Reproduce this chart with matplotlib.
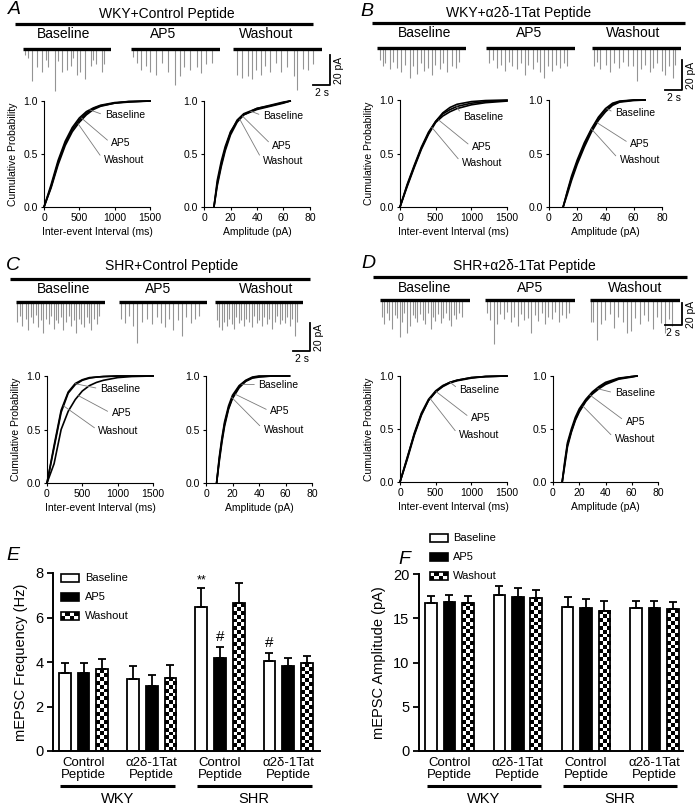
import numpy as np
import matplotlib
matplotlib.use('Agg')
import matplotlib.pyplot as plt
from matplotlib.patches import Rectangle
from matplotlib.transforms import blended_transform_factory

plt.rcParams['font.family'] = ['Liberation Sans', 'DejaVu Sans']

# ---------------- data ----------------
conditions = ['Baseline', 'AP5', 'Washout']
panel_titles = ['WKY+Control Peptide', 'WKY+α2δ-1Tat Peptide',
                'SHR+Control Peptide', 'SHR+α2δ-1Tat Peptide']

# example traces: event times (s) and amplitudes (pA)
A_base_t = [0.2, 0.6, 1.1, 1.7, 2.3, 2.7, 3.0, 3.8, 4.2, 4.6, 5.3, 5.7, 6.0, 6.4, 6.8, 7.4, 8.1, 8.4, 8.7, 9.4, 9.7]
A_base_a = [4, 6, 21, 12, 15, 7, 12, 28, 8, 15, 14, 11, 6, 17, 15, 20, 11, 7, 10, 15, 10]
A_ap5_t = [0.26, 0.7, 1.2, 1.8, 2.3, 2.9, 3.6, 4.4, 5.2, 5.8, 6.3, 7.0, 7.8, 8.3, 8.8, 9.5]
A_ap5_a = [5, 9, 14, 11, 15, 17, 9, 15, 24, 18, 12, 14, 12, 16, 10, 9]
A_wash_t = [0.5, 1.1, 1.8, 2.3, 2.7, 3.3, 3.8, 4.4, 5.1, 5.7, 6.4, 7.2, 7.6, 8.3, 8.9, 9.4]
A_wash_a = [17, 19, 18, 20, 14, 17, 11, 15, 9, 15, 12, 18, 27, 13, 14, 10]

B_base_t = [0.3, 0.7, 1.0, 1.5, 1.9, 2.4, 2.8, 3.3, 3.9, 4.3, 4.7, 5.2, 5.6, 6.0, 6.5, 6.9, 7.4, 7.8, 8.3, 8.8, 9.3, 9.7]
B_base_a = [8, 12, 10, 14, 9, 13, 16, 11, 20, 12, 17, 10, 15, 13, 18, 11, 14, 10, 16, 12, 13, 9]
B_ap5_t = [0.4, 0.8, 1.3, 1.8, 2.2, 2.7, 3.1, 3.6, 4.1, 4.6, 5.0, 5.5, 6.0, 6.4, 6.9, 7.3, 7.8, 8.3, 8.7, 9.2, 9.6]
B_ap5_a = [10, 8, 13, 11, 15, 9, 12, 14, 10, 18, 11, 14, 9, 16, 20, 12, 15, 11, 13, 10, 12]
B_wash_t = [0.2, 0.6, 1.0, 1.6, 2.1, 2.6, 3.2, 3.7, 4.3, 4.8, 5.3, 5.8, 6.3, 6.8, 7.2, 7.7, 8.2, 8.6, 9.1, 9.5, 9.8]
B_wash_a = [12, 9, 14, 11, 16, 10, 13, 9, 12, 12, 22, 14, 11, 16, 13, 10, 15, 18, 12, 20, 11]

C_base_t = [0.15, 0.5, 0.75, 1.15, 1.4, 1.75, 2.0, 2.35, 2.6, 2.95, 3.2, 3.5, 3.85, 4.1, 4.45, 4.7, 5.0,
            5.35, 5.6, 5.9, 6.25, 6.5, 6.8, 7.1, 7.45, 7.7, 8.0, 8.35, 8.6, 8.9, 9.25, 9.5, 9.85]
C_base_a = [14, 10, 17, 12, 20, 11, 15, 9, 18, 13, 22, 12, 16, 10, 19, 13, 15,
            11, 20, 14, 10, 17, 13, 22, 12, 16, 18, 11, 15, 20, 12, 16, 10]
C_ap5_t = [0.2, 0.7, 1.2, 1.7, 2.2, 2.8, 3.3, 3.9, 4.5, 5.0, 5.5, 6.0, 6.5, 7.0, 7.5, 8.0, 8.6, 9.1, 9.6]
C_ap5_a = [12, 15, 10, 17, 29, 14, 12, 16, 11, 15, 18, 12, 20, 13, 24, 11, 15, 12, 10]
C_wash_t = [0.2, 0.45, 0.8, 1.05, 1.4, 1.65, 2.0, 2.3, 2.55, 2.9, 3.15, 3.5, 3.75, 4.1, 4.4, 4.65, 5.0,
            5.25, 5.6, 5.85, 6.2, 6.45, 6.8, 7.1, 7.35, 7.7, 7.95, 8.3, 8.55, 8.9, 9.15, 9.5, 9.8]
C_wash_a = [13, 18, 20, 14, 17, 12, 16, 19, 11, 15, 13, 17, 12, 14, 18, 10, 15,
            13, 17, 11, 16, 12, 19, 14, 10, 16, 13, 15, 11, 17, 12, 24, 14]

D_base_t = [0.2, 0.45, 0.8, 1.05, 1.4, 1.7, 1.95, 2.3, 2.6, 2.85, 3.2, 3.45, 3.8, 4.1, 4.35, 4.7,
            5.0, 5.3, 5.55, 5.9, 6.2, 6.45, 6.8, 7.1, 7.35, 7.7, 8.0, 8.25, 8.6, 8.9, 9.2, 9.55]
D_base_a = [15, 22, 12, 18, 26, 14, 16, 34, 20, 12, 30, 24, 14, 16, 20, 13,
            18, 22, 12, 26, 15, 19, 13, 21, 16, 12, 18, 24, 14, 17, 12, 15]
D_ap5_t = [0.2, 0.6, 1.0, 1.4, 1.8, 2.2, 2.6, 3.0, 3.4, 3.8, 4.2, 4.6, 5.0,
           5.4, 5.8, 6.2, 6.6, 7.0, 7.4, 7.8, 8.2, 8.6, 9.0, 9.4, 9.8]
D_ap5_a = [12, 18, 40, 22, 13, 17, 11, 20, 15, 24, 13, 18, 16,
           30, 14, 19, 12, 22, 15, 17, 11, 20, 14, 16, 12]
D_wash_t = [0.1, 0.4, 0.8, 1.3, 1.8, 2.3, 2.8, 3.3, 3.8, 4.3, 4.8, 5.3, 5.8, 6.3, 6.8, 7.3, 7.8, 8.3, 8.8, 9.2, 9.6]
D_wash_a = [20, 20, 36, 22, 18, 13, 25, 15, 20, 30, 28, 16, 22, 14, 19, 26, 15, 21, 30, 17, 24]

# cumulative distributions: inter-event interval (ms)
int_ms = [0, 100, 200, 300, 400, 500, 600, 700, 800, 1000, 1200, 1500]
A_int_base = [0, 0.21, 0.44, 0.62, 0.75, 0.84, 0.90, 0.935, 0.96, 0.985, 0.995, 1.0]
A_int_ap5 = [0, 0.19, 0.42, 0.60, 0.73, 0.82, 0.885, 0.93, 0.955, 0.98, 0.995, 1.0]
A_int_wash = [0, 0.18, 0.40, 0.58, 0.71, 0.80, 0.87, 0.92, 0.95, 0.98, 0.99, 1.0]
B_int_base = [0, 0.20, 0.38, 0.55, 0.69, 0.80, 0.87, 0.91, 0.94, 0.97, 0.985, 0.995]
B_int_ap5 = [0, 0.19, 0.37, 0.54, 0.68, 0.79, 0.85, 0.89, 0.92, 0.955, 0.975, 0.99]
B_int_wash = [0, 0.21, 0.39, 0.56, 0.70, 0.80, 0.88, 0.93, 0.96, 0.985, 0.995, 1.0]
C_int_base = [0, 0.35, 0.68, 0.85, 0.93, 0.965, 0.985, 0.99, 0.995, 1.0, 1.0, 1.0]
C_int_ap5 = [0, 0.18, 0.50, 0.67, 0.78, 0.86, 0.91, 0.94, 0.96, 0.985, 0.995, 1.0]
C_int_wash = [0, 0.33, 0.66, 0.84, 0.92, 0.96, 0.98, 0.99, 0.995, 1.0, 1.0, 1.0]
D_int_base = [0, 0.22, 0.46, 0.65, 0.78, 0.86, 0.91, 0.94, 0.96, 0.985, 0.995, 1.0]
D_int_ap5 = [0, 0.21, 0.44, 0.63, 0.77, 0.85, 0.90, 0.935, 0.955, 0.98, 0.995, 1.0]
D_int_wash = [0, 0.23, 0.45, 0.64, 0.77, 0.85, 0.905, 0.94, 0.96, 0.985, 0.995, 1.0]

# cumulative distributions: amplitude (pA)
A_amp_x = [7.5, 10, 13, 16, 20, 25, 30, 40, 50, 60, 65]
A_amp_base = [0, 0.22, 0.40, 0.55, 0.70, 0.82, 0.88, 0.93, 0.955, 0.985, 1.0]
A_amp_ap5 = [0, 0.25, 0.43, 0.57, 0.71, 0.81, 0.87, 0.92, 0.95, 0.98, 1.0]
A_amp_wash = [0, 0.20, 0.38, 0.53, 0.68, 0.80, 0.87, 0.93, 0.96, 0.99, 1.0]
B_amp_x = [10, 13, 16, 20, 25, 30, 35, 40, 45, 50, 60, 68]
B_amp_base = [0, 0.14, 0.27, 0.42, 0.58, 0.72, 0.83, 0.91, 0.96, 0.985, 1.0, 1.0]
B_amp_ap5 = [0, 0.12, 0.25, 0.40, 0.56, 0.70, 0.81, 0.89, 0.95, 0.98, 0.995, 1.0]
B_amp_wash = [0, 0.15, 0.29, 0.44, 0.60, 0.73, 0.84, 0.92, 0.97, 0.99, 1.0, 1.0]
C_amp_x = [8, 10, 12, 14, 17, 20, 25, 30, 35, 40, 50, 63]
C_amp_base = [0, 0.22, 0.40, 0.55, 0.70, 0.80, 0.90, 0.955, 0.985, 0.995, 1.0, 1.0]
C_amp_ap5 = [0, 0.20, 0.38, 0.53, 0.69, 0.79, 0.89, 0.95, 0.98, 0.99, 1.0, 1.0]
C_amp_wash = [0, 0.24, 0.42, 0.57, 0.72, 0.82, 0.91, 0.96, 0.99, 1.0, 1.0, 1.0]
D_amp_x = [7, 9, 11, 14, 17, 20, 25, 30, 35, 40, 50, 60, 64]
D_amp_base = [0, 0.18, 0.35, 0.48, 0.59, 0.67, 0.77, 0.84, 0.89, 0.93, 0.975, 0.995, 1.0]
D_amp_ap5 = [0, 0.20, 0.37, 0.50, 0.61, 0.69, 0.78, 0.85, 0.90, 0.94, 0.98, 0.995, 1.0]
D_amp_wash = [0, 0.16, 0.33, 0.47, 0.58, 0.66, 0.76, 0.83, 0.88, 0.92, 0.97, 0.99, 1.0]

# summary bars (mean, SEM)
group_labels = ['Control\nPeptide', 'α2δ-1Tat\nPeptide', 'Control\nPeptide', 'α2δ-1Tat\nPeptide']
strains = ['WKY', 'SHR']
freq_base = [3.50, 3.23, 6.47, 4.05]
freq_base_err = [0.45, 0.57, 0.86, 0.35]
freq_ap5 = [3.50, 2.94, 4.19, 3.80]
freq_ap5_err = [0.45, 0.47, 0.48, 0.37]
freq_wash = [3.68, 3.30, 6.65, 3.95]
freq_wash_err = [0.45, 0.57, 0.89, 0.33]
amp_base = [16.71, 17.66, 16.29, 16.14]
amp_base_err = [0.76, 1.02, 1.14, 0.84]
amp_ap5 = [16.86, 17.43, 16.18, 16.14]
amp_ap5_err = [0.80, 0.94, 0.98, 0.84]
amp_wash = [16.75, 17.28, 15.84, 16.03]
amp_wash_err = [0.79, 0.94, 1.10, 0.76]
freq_marks = [(2, 0, '**'), (2, 1, '#'), (3, 0, '#')]   # (group, condition, mark)

# ---------------- layout helpers ----------------
W, H = 697, 807
fig = plt.figure(figsize=(W / 100, H / 100), dpi=100)


def px_axes(x0, y0, x1, y1):
    return fig.add_axes([x0 / W, 1 - y1 / H, (x1 - x0) / W, (y1 - y0) / H])


over = px_axes(0, 0, W, H)
over.set_zorder(10)
over.patch.set_visible(False)
over.axis('off')

TRACE_S = 10.5


def checker(rows, cols):
    return np.indices((rows, cols)).sum(axis=0) % 2


def draw_trace(x0, x1, ybase, ppa, t, a):
    ax = px_axes(x0, ybase - 6, x1, ybase + 50)
    ax.set_xlim(0, TRACE_S)
    ax.set_ylim(-50 / ppa, 6 / ppa)
    ax.axis('off')
    ax.vlines(t, -np.array(a, dtype=float), 0, color='#949494', lw=0.8)
    ax.plot([0, TRACE_S], [0, 0], color='k', lw=2.4, solid_capstyle='butt')


def draw_cdf(rect, xs, curves, xlim, xticks, xlabel, ylabel, labels):
    ax = px_axes(*rect)
    for y in curves:
        ax.plot(xs, y, color='k', lw=1.2, clip_on=False)
    ax.set_xlim(*xlim)
    ax.set_ylim(0, 1)
    ax.set_xticks(xticks)
    ax.set_yticks([0, 0.5, 1.0], ['0.0', '0.5', '1.0'])
    for s in ['top', 'right']:
        ax.spines[s].set_visible(False)
    for s in ['left', 'bottom']:
        ax.spines[s].set_linewidth(0.8)
    ax.tick_params(length=2.5, width=0.8, labelsize=7.5, pad=2)
    ax.set_xlabel(xlabel, fontsize=7.5, labelpad=3)
    if ylabel:
        ax.set_ylabel('Cumulative Probability', fontsize=7.5, labelpad=4)
    for name, y, (tx, ty, axx) in zip(conditions, curves, labels):
        ax.annotate(name, xy=(axx, np.interp(axx, xs, y)), xytext=(tx, ty),
                    ha='left', va='center', fontsize=7.5,
                    arrowprops=dict(arrowstyle='-', color='#7a7a7a', lw=0.6,
                                    shrinkA=1, shrinkB=0, relpos=(0, 0.5)))


panels = [
    dict(letter=(14, 10), title=(167, 14), line=(15, 313, 24), cond_y=34, cond_x=(64, 163, 266),
         traces=[(23, 111), (131, 220), (233, 322)], base=49, ppa=1.5, sb=(330, 85),
         cdf_int=(44, 101, 150, 207), cdf_amp=(204, 101, 310, 207),
         tr=[(A_base_t, A_base_a), (A_ap5_t, A_ap5_a), (A_wash_t, A_wash_a)],
         ints=[A_int_base, A_int_ap5, A_int_wash], amp_x=A_amp_x,
         amps=[A_amp_base, A_amp_ap5, A_amp_wash],
         lab_int=[(858, 0.866, 647), (952, 0.60, 530), (844, 0.44, 483)],
         lab_amp=[(44.5, 0.86, 35), (51.5, 0.58, 29), (44.5, 0.43, 27)]),
    dict(letter=(367, 11), title=(519, 13), line=(372, 685, 23), cond_y=33, cond_x=(425, 529, 633),
         traces=[(377, 466), (486, 575), (592, 681)], base=48, ppa=1.5, sb=(682, 90),
         cdf_int=(400, 100, 507, 207), cdf_amp=(549, 100, 662, 207),
         tr=[(B_base_t, B_base_a), (B_ap5_t, B_ap5_a), (B_wash_t, B_wash_a)],
         ints=[B_int_base, B_int_ap5, B_int_wash], amp_x=B_amp_x,
         amps=[B_amp_base, B_amp_ap5, B_amp_wash],
         lab_int=[(881, 0.84, 797), (1008, 0.56, 540), (867, 0.41, 445)],
         lab_amp=[(46.8, 0.875, 41), (57.5, 0.59, 34), (49.9, 0.44, 30)]),
    dict(letter=(13, 265), title=(172, 266), line=(10, 310, 279), cond_y=289, cond_x=(64, 158, 266),
         traces=[(16, 105), (119, 207), (215, 303)], base=302, ppa=1.4, sb=(310, 351),
         cdf_int=(47, 376, 153, 483), cdf_amp=(206, 376, 312, 483),
         tr=[(C_base_t, C_base_a), (C_ap5_t, C_ap5_a), (C_wash_t, C_wash_a)],
         ints=[C_int_base, C_int_ap5, C_int_wash], amp_x=C_amp_x,
         amps=[C_amp_base, C_amp_ap5, C_amp_wash],
         lab_int=[(750, 0.88, 398), (914, 0.65, 445), (727, 0.49, 234)],
         lab_amp=[(39.6, 0.92, 27), (48.5, 0.67, 22), (43.4, 0.50, 19.4)]),
    dict(letter=(368, 264), title=(524, 266), line=(373, 687, 277), cond_y=288, cond_x=(425, 530, 635),
         traces=[(380, 470), (485, 575), (590, 680)], base=300, ppa=1.1, sb=(682, 325),
         cdf_int=(400, 376, 507, 482), cdf_amp=(553, 376, 658, 482),
         tr=[(D_base_t, D_base_a), (D_ap5_t, D_ap5_a), (D_wash_t, D_wash_a)],
         ints=[D_int_base, D_int_ap5, D_int_wash], amp_x=D_amp_x,
         amps=[D_amp_base, D_amp_ap5, D_amp_wash],
         lab_int=[(834, 0.87, 703), (994, 0.60, 506), (825, 0.44, 422)],
         lab_amp=[(47, 0.84, 34), (55.3, 0.57, 28), (47, 0.41, 22.8)]),
]

for letter, title, p in zip('ABCD', panel_titles, panels):
    over.text(*p['letter'], letter, fontsize=14, style='italic', ha='center', va='center')
    over.text(*p['title'], title, fontsize=10, ha='center', va='center')
    x0, x1, y = p['line']
    over.plot([x0, x1], [y, y], color='k', lw=2.3, solid_capstyle='butt')
    for cx, name in zip(p['cond_x'], conditions):
        over.text(cx, p['cond_y'], name, fontsize=10, ha='center', va='center')
    for (tx0, tx1), (t, a) in zip(p['traces'], p['tr']):
        draw_trace(tx0, tx1, p['base'], p['ppa'], t, a)
    # scale bar: 2 s / 20 pA
    sx, sy = p['sb']
    tx0, tx1 = p['traces'][2]
    hlen = 2 * (tx1 - tx0) / TRACE_S
    vlen = 20 * p['ppa']
    over.plot([sx - hlen, sx, sx], [sy, sy, sy - vlen], color='k', lw=1.3)
    over.text(sx - hlen / 2, sy + 8, '2 s', fontsize=7.5, ha='center', va='center')
    over.text(sx + 9, sy - vlen / 2, '20 pA', fontsize=7.5, ha='center', va='center', rotation=90)
    draw_cdf(p['cdf_int'], int_ms, p['ints'], (0, 1500), [0, 500, 1000, 1500],
             'Inter-event Interval (ms)', True, p['lab_int'])
    draw_cdf(p['cdf_amp'], p['amp_x'], p['amps'], (0, 80), [0, 20, 40, 60, 80],
             'Amplitude (pA)', False, p['lab_amp'])


def draw_legend(x, ys, tx):
    for yc, name, kind in zip(ys, conditions, ['open', 'solid', 'check']):
        if kind == 'check':
            over.imshow(checker(2, 4), extent=(x, x + 18, yc + 4, yc - 4), cmap='gray_r',
                        interpolation='nearest', aspect='auto', zorder=2)
            over.add_patch(Rectangle((x, yc - 4), 18, 8, fill=False, ec='k', lw=1.2, zorder=3))
        else:
            over.add_patch(Rectangle((x, yc - 4), 18, 8, fc='white' if kind == 'open' else 'k',
                                     ec='k', lw=1.2))
        over.text(tx, yc, name, fontsize=8, ha='left', va='center')


def draw_bars(rect, spacing, xlim, ylim, yticks, ylabel, series, px_per_unit, line_y, marks):
    ax = px_axes(*rect)
    g = np.arange(4) * spacing
    w = 0.63
    for k, (vals, errs) in enumerate(series):
        xs = g + (k - 1)
        if k == 0:
            ax.bar(xs, vals, w, color='white', edgecolor='k', lw=1.3, zorder=2)
        elif k == 1:
            ax.bar(xs, vals, w, color='k', edgecolor='k', lw=1.3, zorder=2)
        else:
            ax.bar(xs, vals, w, color='white', edgecolor='none', zorder=1)
            for xb, v in zip(xs, vals):
                rows = max(1, int(round(v * px_per_unit / 3.9)))
                ax.imshow(checker(rows, 3), cmap='gray_r',
                          extent=(xb - w / 2, xb + w / 2, 0, v), origin='lower',
                          interpolation='nearest', aspect='auto', zorder=2)
            ax.bar(xs, vals, w, fill=False, edgecolor='k', lw=1.3, zorder=3)
        ax.errorbar(xs, vals, yerr=[np.zeros(4), errs], fmt='none', ecolor='k',
                    elinewidth=1.3, capsize=3, capthick=1.3, zorder=4)
    for gi, ci, m in marks:
        vals, errs = series[ci]
        top = vals[gi] + errs[gi]
        ax.text(g[gi] + ci - 1, top + (0.05 if m == '**' else 0.12) * (ylim[1] / 8), m,
                ha='center', va='bottom', fontsize=9 if m == '**' else 11)
    ax.set_xlim(*xlim)
    ax.set_ylim(*ylim)
    ax.set_yticks(yticks)
    ax.set_xticks(g, group_labels, fontsize=9.5, linespacing=1.05)
    ax.tick_params(axis='x', length=0, pad=4)
    ax.tick_params(axis='y', length=4, width=1.3, labelsize=10.5, pad=3)
    for s in ['top', 'right']:
        ax.spines[s].set_visible(False)
    for s in ['left', 'bottom']:
        ax.spines[s].set_linewidth(1.4)
    ax.set_ylabel(ylabel, fontsize=10.5, labelpad=5)
    tr = blended_transform_factory(ax.transData, over.transData)
    for i, name in enumerate(strains):
        a, b = g[2 * i] - 1.25, g[2 * i + 1] + 1.25
        over.plot([a, b], [line_y, line_y], color='k', lw=2.2, transform=tr,
                  solid_capstyle='butt')
        over.text((a + b) / 2, line_y + 13, name, fontsize=10.5, ha='center',
                  va='center', transform=tr)
    return ax


freq_series = [(freq_base, freq_base_err), (freq_ap5, freq_ap5_err), (freq_wash, freq_wash_err)]
amp_series = [(amp_base, amp_base_err), (amp_ap5, amp_ap5_err), (amp_wash, amp_wash_err)]

draw_bars((53, 573, 320, 751), 3.64, (-1.63, 12.62), (0, 8), [0, 2, 4, 6, 8],
          'mEPSC Frequency (Hz)', freq_series, 22.3, 786, freq_marks)
draw_bars((419, 574, 683, 751), 3.72, (-1.66, 12.72), (0, 20), [0, 5, 10, 15, 20],
          'mEPSC Amplitude (pA)', amp_series, 8.85, 786, [])

over.text(13, 555, 'E', fontsize=14, style='italic', ha='center', va='center')
over.text(404, 559, 'F', fontsize=14, style='italic', ha='center', va='center')
draw_legend(61, [578, 597, 616], 85)
draw_legend(430, [538, 557, 576], 453)

over.set_xlim(0, W)
over.set_ylim(H, 0)

fig.savefig('out.png', dpi=100)
